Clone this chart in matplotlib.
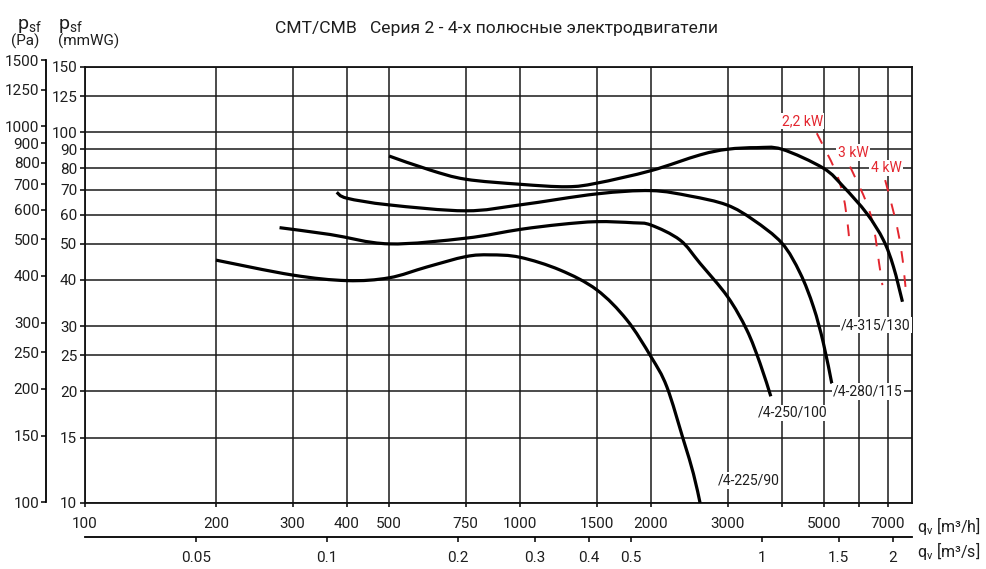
import matplotlib
matplotlib.use("Agg")
import numpy as np
import matplotlib.pyplot as plt
from matplotlib.path import Path
from matplotlib.patches import PathPatch
from matplotlib.ticker import NullLocator, FixedLocator, FixedFormatter

plt.rcParams['font.family'] = ['Roboto', 'DejaVu Sans']

# ---------------- data ----------------
# airflow q_v in m3/h, static pressure in mmWG
q_225 = [200, 300, 400, 500, 610, 750, 853, 1000, 1236, 1500, 1759, 2000, 2174, 2374, 2503, 2593]
p_225 = [45.2, 41.2, 39.8, 40.5, 43.3, 46.2, 46.7, 46.0, 42.5, 37.6, 31.2, 24.8, 20.6, 14.8, 12.0, 10.0]

q_250 = [280, 366, 500, 750, 1000, 1236, 1500, 1822, 2000, 2332, 2593, 3000, 3320, 3562, 3770]
p_250 = [55.3, 53.0, 50.0, 51.8, 54.7, 56.4, 57.4, 57.0, 56.2, 51.2, 44.3, 36.0, 29.3, 23.8, 19.4]

q_280 = [379, 400, 500, 750, 1000, 1500, 2000, 2459, 2985, 3439, 4000, 4403, 4725, 4980, 5207]
p_280 = [68.9, 66.4, 63.7, 61.4, 63.7, 68.2, 69.6, 67.3, 63.7, 58.0, 50.2, 41.7, 33.8, 27.0, 21.0]

q_315 = [500, 621, 750, 1000, 1281, 1500, 2000, 2593, 3000, 3501, 4000, 4980, 5538, 6266, 6842, 7215, 7568]
p_315 = [86.3, 79.1, 74.7, 72.4, 71.3, 72.9, 78.8, 86.9, 90.0, 90.9, 90.0, 80.0, 71.3, 60.4, 51.2, 43.4, 34.9]

curve_names = ['/4-225/90', '/4-250/100', '/4-280/115', '/4-315/130']

# motor power limit lines
q_22kw = [4809, 5298, 5538, 5666, 5705]
p_22kw = [99.4, 79.1, 67.0, 56.2, 51.5]
q_3kw = [5735, 6266, 6514, 6688, 6806]
p_3kw = [80.8, 64.3, 54.5, 44.3, 38.7]
q_4kw = [6906, 7280, 7502, 7634, 7717]
p_4kw = [74.3, 58.6, 49.1, 41.7, 36.6]
power_names = ['2,2 kW', '3 kW', '4 kW']

# axis ticks
x_grid = [100, 200, 300, 400, 500, 750, 1000, 1500, 2000, 3000, 4000, 5000, 6000, 7000]
x_labels = ['100', '200', '300', '400', '500', '750', '1000', '1500', '2000', '3000', '', '5000', '', '7000']
mm_ticks = [10, 15, 20, 25, 30, 40, 50, 60, 70, 80, 90, 100, 125, 150]
pa_ticks = [100, 150, 200, 250, 300, 400, 500, 600, 700, 800, 900, 1000, 1250, 1500]
ms_ticks = [0.05, 0.1, 0.2, 0.3, 0.4, 0.5, 1, 1.5, 2]
ms_labels = ['0.05', '0.1', '0.2', '0.3', '0.4', '0.5', '1', '1.5', '2']

# ---------------- figure ----------------
W, H = 987, 569
fig = plt.figure(figsize=(W / 100, H / 100), dpi=100)
PT = 72 / 100  # px -> pt


def fx(px):
    return px / W


def fy(py):
    return 1 - py / H


def smooth_path(q, p):
    """Smooth Bezier path through the points (Catmull-Rom in log-log space)."""
    pts = np.column_stack([np.log10(q), np.log10(p)])
    n = len(pts)
    verts = [pts[0]]
    codes = [Path.MOVETO]
    for i in range(n - 1):
        p0 = pts[i - 1] if i > 0 else pts[i]
        p1 = pts[i]
        p2 = pts[i + 1]
        p3 = pts[i + 2] if i + 2 < n else pts[i + 1]
        verts += [p1 + (p2 - p0) / 6.0, p2 - (p3 - p1) / 6.0, p2]
        codes += [Path.CURVE4] * 3
    return Path(10 ** np.array(verts), codes)


XMIN, XMAX = 100, 7960
txt = '#1e1e1e'
red = '#e3262f'

# main axes
ax = fig.add_axes([fx(85), fy(503), fx(912) - fx(85), fy(67) - fy(503)])
ax.set_xscale('log')
ax.set_yscale('log')
ax.set_xlim(XMIN, XMAX)
ax.set_ylim(10, 150)
ax.xaxis.set_major_locator(FixedLocator(x_grid))
ax.xaxis.set_major_formatter(FixedFormatter(x_labels))
ax.xaxis.set_minor_locator(NullLocator())
ax.yaxis.set_major_locator(FixedLocator(mm_ticks))
ax.yaxis.set_major_formatter(FixedFormatter([str(v) for v in mm_ticks]))
ax.yaxis.set_minor_locator(NullLocator())
ax.grid(True, which='major', color='#1a1a1a', lw=1.1, zorder=1)
for s in ax.spines.values():
    s.set_linewidth(1.3)
    s.set_color('#111111')
ax.tick_params(axis='y', direction='out', length=5 * PT, width=1.1, pad=2,
               labelsize=11, labelcolor=txt)
ax.tick_params(axis='x', direction='out', length=4 * PT, width=1.1, pad=10 * PT,
               labelsize=11, labelcolor=txt)

# fan curves
for q, p in [(q_225, p_225), (q_250, p_250), (q_280, p_280), (q_315, p_315)]:
    ax.add_patch(PathPatch(smooth_path(q, p), fill=False, edgecolor='black',
                           lw=2.3, capstyle='butt', zorder=4))

# power lines
for q, p in [(q_22kw, p_22kw), (q_3kw, p_3kw), (q_4kw, p_4kw)]:
    ax.add_patch(PathPatch(smooth_path(q, p), fill=False, edgecolor=red,
                           lw=1.4, linestyle=(0, (6, 6.5)), zorder=3))

lbl_box = dict(facecolor='white', edgecolor='none', pad=1.0)
lbl_fs = 10
ax.text(2852, 11.5, curve_names[0], ha='left', va='center', fontsize=lbl_fs,
        color=txt, bbox=lbl_box, zorder=5)
ax.text(3525, 17.5, curve_names[1], ha='left', va='center', fontsize=lbl_fs,
        color=txt, bbox=lbl_box, zorder=5)
ax.text(5243, 20, curve_names[2], ha='left', va='center', fontsize=lbl_fs,
        color=txt, bbox=lbl_box, zorder=5)
ax.text(7900, 30.2, curve_names[3], ha='right', va='center', fontsize=lbl_fs,
        color=txt, bbox=lbl_box, zorder=5)

ax.text(4449, 107.3, power_names[0], ha='center', va='center', fontsize=10,
        color=red, bbox=lbl_box, zorder=5)
ax.text(5830, 88.0, power_names[1], ha='center', va='center', fontsize=10,
        color=red, bbox=lbl_box, zorder=5)
ax.text(6941, 80.1, power_names[2], ha='center', va='center', fontsize=10,
        color=red, bbox=lbl_box, zorder=5)

# Pa axis
axp = fig.add_axes([fx(46), fy(502), 0.0001, fy(60) - fy(502)])
axp.set_yscale('log')
axp.set_ylim(100, 1500)
axp.patch.set_visible(False)
for k in ['top', 'right', 'bottom']:
    axp.spines[k].set_visible(False)
axp.spines['left'].set_linewidth(1.3)
axp.set_xticks([])
axp.yaxis.set_major_locator(FixedLocator(pa_ticks))
axp.yaxis.set_major_formatter(FixedFormatter([str(v) for v in pa_ticks]))
axp.yaxis.set_minor_locator(NullLocator())
axp.tick_params(axis='y', direction='out', length=5 * PT, width=1.1, pad=1,
                labelsize=11, labelcolor=txt)

# m3/s axis
axs = fig.add_axes([fx(85), fy(537), fx(912) - fx(85), 0.0001])
axs.set_xscale('log')
axs.set_xlim(XMIN / 3600, XMAX / 3600)
axs.patch.set_visible(False)
for k in ['top', 'right', 'left']:
    axs.spines[k].set_visible(False)
axs.spines['bottom'].set_linewidth(1.3)
axs.set_yticks([])
axs.xaxis.set_major_locator(FixedLocator(ms_ticks))
axs.xaxis.set_major_formatter(FixedFormatter(ms_labels))
axs.xaxis.set_minor_locator(NullLocator())
axs.tick_params(axis='x', direction='out', length=5 * PT, width=1.1, pad=9 * PT,
                labelsize=11, labelcolor=txt)

# axis titles
fig.text(fx(917), fy(526), r'q$_\mathregular{v}$ [m³/h]', ha='left', va='center',
         fontsize=11.5, color=txt)
fig.text(fx(917), fy(551), r'q$_\mathregular{v}$ [m³/s]', ha='left', va='center',
         fontsize=11.5, color=txt)

fig.text(fx(17), fy(26), r'p$_\mathregular{sf}$', ha='left', va='center',
         fontsize=14, color=txt)
fig.text(fx(25), fy(41), '(Pa)', ha='center', va='center', fontsize=11, color=txt)
fig.text(fx(58), fy(26), r'p$_\mathregular{sf}$', ha='left', va='center',
         fontsize=14, color=txt)
fig.text(fx(89), fy(41), '(mmWG)', ha='center', va='center', fontsize=11, color=txt)

fig.text(fx(497), fy(28), 'CMT/CMB   Серия 2 - 4-х полюсные электродвигатели',
         ha='center', va='center', fontsize=12.6, color=txt)

fig.savefig('out.png', dpi=100, facecolor='white')
